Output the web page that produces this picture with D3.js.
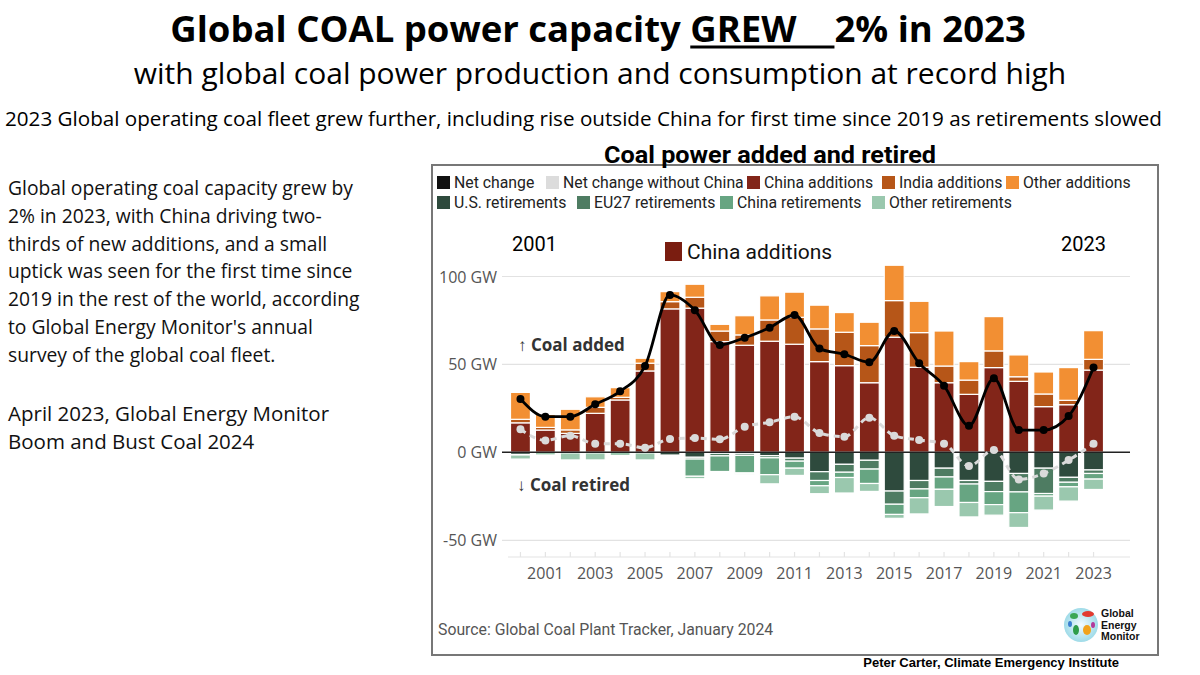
<!DOCTYPE html>
<html><head><meta charset="utf-8">
<script src="https://cdn.jsdelivr.net/npm/d3@7"></script>
<style>
html,body{margin:0;padding:0;background:#fff;}
svg text{font-family:"Open Sans",sans-serif;}
</style></head>
<body>
<svg id="c" width="1200" height="675"></svg>
<script>
const years = [2000,2001,2002,2003,2004,2005,2006,2007,2008,2009,2010,2011,2012,2013,2014,2015,2016,2017,2018,2019,2020,2021,2022,2023];
const chinaAdd = [16.8,12.7,10.8,22.2,29.8,46.3,81.6,82.0,63.0,60.9,63.2,61.5,51.6,49.3,39.6,65.5,48.4,39.6,33.0,48.2,40.4,26.0,27.1,46.8];
const indiaAdd = [2.0,1.5,2.0,3.4,1.5,4.4,4.1,6.2,6.0,5.9,12.1,15.3,18.6,19.0,21.1,20.8,19.7,9.5,8.1,9.5,2.6,7.2,2.5,6.1];
const otherAdd = [15.3,7.4,11.7,6.0,5.5,2.8,5.7,7.4,3.8,10.9,13.7,14.3,13.5,11.2,13.3,20.1,17.8,19.9,10.5,19.5,12.4,12.5,18.6,16.3];
const usRet = [1.2,0,0,0,0,0,1.5,2.8,0.5,0.5,1.9,3.3,11.0,6.8,4.5,22.0,16.0,9.0,16.0,16.5,12.0,9.0,14.2,10.0];
const euRet = [0.3,0,0.3,0.3,0,0.3,0,1.0,1.5,1.2,1.2,1.7,5.0,4.5,5.0,7.5,4.8,5.0,2.0,5.8,10.5,14.4,2.8,2.0];
const chinaRet = [0,0,0,0,0,0,0,9.8,8.9,10.0,9.6,4.0,3.0,3.0,8.2,5.8,5.0,7.0,10.5,7.4,11.8,1.5,2.6,3.2];
const otherRet = [2.3,1.5,4.0,4.0,1.8,4.0,0,1.4,0.5,0.7,5.2,4.1,4.5,8.8,4.5,2.2,9.2,9.8,8.2,6.0,8.4,7.9,8.1,5.9];
const netChange = [30.3,20.3,20.3,27.3,34.7,49.1,89.5,80.8,61.1,65.2,70.9,78.1,59.0,55.8,51.2,69.0,50.7,37.9,15.1,42.1,12.7,12.7,20.7,48.2];
const netNoChina = [13.1,6.8,9.5,4.9,4.9,2.6,7.6,8.1,7.4,14.6,17.1,20.3,11.0,8.9,19.7,9.5,7.0,4.9,-7.8,1.3,-15.4,-12.0,-4.4,4.9];
const yTicks = [-50,0,50,100];
const xLabelYears = [2001,2003,2005,2007,2009,2011,2013,2015,2017,2019,2021,2023];

const addSeries = [
  {name:"China additions", vals:chinaAdd, color:"#822519"},
  {name:"India additions", vals:indiaAdd, color:"#b65618"},
  {name:"Other additions", vals:otherAdd, color:"#f28f33"}
];
const retSeries = [
  {name:"U.S. retirements", vals:usRet, color:"#2e4a3d"},
  {name:"EU27 retirements", vals:euRet, color:"#4e7c62"},
  {name:"China retirements", vals:chinaRet, color:"#67a582"},
  {name:"Other retirements", vals:otherRet, color:"#9ac8ae"}
];

const svg = d3.select("#c");

// Titles
const t1 = svg.append("text").attr("x",598).attr("y",42).attr("text-anchor","middle")
  .style("font-size","36.5px").style("font-weight","700").attr("fill","#000")
  .attr("xml:space","preserve");
t1.append("tspan").text("Global COAL power capacity ");
t1.append("tspan").text("GREW\u00A0\u00A0\u00A0\u00A0");
t1.append("tspan").text("2% in 2023");
{
  const node = t1.node();
  const start = "Global COAL power capacity ".length;
  const end = start + 8;
  const a = node.getStartPositionOfChar(start).x;
  const b = node.getEndPositionOfChar(end-1).x;
  svg.append("line").attr("x1",a).attr("x2",b).attr("y1",47).attr("y2",47)
    .attr("stroke","#000").attr("stroke-width",2.8);
}
svg.append("text").attr("x",600).attr("y",84).attr("text-anchor","middle")
  .style("font-size","30px").attr("fill","#000")
  .text("with global coal power production and consumption at record high");
svg.append("text").attr("x",583.5).attr("y",126).attr("text-anchor","middle")
  .style("font-size","20px").attr("fill","#000").attr("textLength",1157).attr("lengthAdjust","spacingAndGlyphs")
  .text("2023 Global operating coal fleet grew further, including rise outside China for first time since 2019 as retirements slowed");

const leftLines = ["Global operating coal capacity grew by","2% in 2023, with China driving two-","thirds of new additions, and a small","uptick was seen for the first time since","2019 in the rest of the world, according","to Global Energy Monitor's annual","survey of the global coal fleet."];
leftLines.forEach((l,i)=>{
  svg.append("text").attr("x",8).attr("y",195+i*27.8).style("font-size","19.3px").attr("fill","#111").text(l);
});
["April 2023, Global Energy Monitor","Boom and Bust Coal 2024"].forEach((l,i)=>{
  svg.append("text").attr("x",8).attr("y",421+i*27.8).style("font-size","20.5px").attr("fill","#111").text(l);
});

// Chart frame
svg.append("rect").attr("x",432).attr("y",165).attr("width",726).attr("height",490)
  .attr("fill","#fff").attr("stroke","#777").attr("stroke-width",2);
svg.append("text").attr("x",604).attr("y",163)
  .style("font-family","Roboto").style("font-size","23px").style("font-weight","700").attr("fill","#000")
  .attr("textLength",332).attr("lengthAdjust","spacingAndGlyphs")
  .text("Coal power added and retired");

// Legend
const legendRows = [
  [{name:"Net change",color:"#111",x:437},{name:"Net change without China",color:"#dcdcdc",x:546},
   {name:"China additions",color:"#822519",x:747},{name:"India additions",color:"#b65618",x:882},{name:"Other additions",color:"#f28f33",x:1006}],
  [{name:"U.S. retirements",color:"#2e4a3d",x:437},{name:"EU27 retirements",color:"#4e7c62",x:577},
   {name:"China retirements",color:"#67a582",x:720},{name:"Other retirements",color:"#9ac8ae",x:872}]
];
legendRows.forEach((row,ri)=>{
  const cy = 183 + ri*20;
  row.forEach(it=>{
    svg.append("rect").attr("x",it.x).attr("y",cy-7).attr("width",13).attr("height",13).attr("fill",it.color);
    svg.append("text").attr("x",it.x+17).attr("y",cy+5).style("font-family","Roboto").style("font-size","15.8px")
      .attr("fill","#222").text(it.name);
  });
});

// Scales
const x = d3.scaleBand().domain(years).range([508,1106]).paddingInner(0.2).paddingOuter(0.1);
const y = d3.scaleLinear().domain([-50,100]).range([540.3,276.5]);

// gridlines
const g = svg.append("g");
yTicks.forEach(t=>{
  if(t===0) return;
  g.append("line").attr("x1",502).attr("x2",1130).attr("y1",y(t)).attr("y2",y(t))
    .attr("stroke","#e2e2e2").attr("stroke-width",1.2);
});
yTicks.forEach(t=>{
  g.append("text").attr("x",497).attr("y",y(t)+6).attr("text-anchor","end")
    .style("font-size","16px").attr("fill","#555").text(t+" GW");
});

// x axis
const xAxisY = 557;
g.append("line").attr("x1",508).attr("x2",1130).attr("y1",xAxisY).attr("y2",xAxisY).attr("stroke","#e4e4e4").attr("stroke-width",1.2);
years.forEach(yr=>{
  const cx = x(yr)+x.bandwidth()/2;
  g.append("line").attr("x1",cx).attr("x2",cx).attr("y1",xAxisY-5).attr("y2",xAxisY).attr("stroke","#e4e4e4").attr("stroke-width",1.2);
});
xLabelYears.forEach(yr=>{
  g.append("text").attr("x",x(yr)+x.bandwidth()/2).attr("y",579).attr("text-anchor","middle")
    .style("font-size","16px").attr("fill","#555").text(yr);
});

// Stacked bars
const bars = svg.append("g");
years.forEach((yr,i)=>{
  let base = 0;
  addSeries.forEach(s=>{
    const v = s.vals[i];
    if(v>0){
      bars.append("rect").attr("x",x(yr)).attr("width",x.bandwidth())
        .attr("y",y(base+v)).attr("height",y(base)-y(base+v))
        .attr("fill",s.color).attr("stroke","#fff").attr("stroke-width",1.2);
    }
    base += v;
  });
  let nb = 0;
  retSeries.forEach(s=>{
    const v = s.vals[i];
    if(v>0){
      bars.append("rect").attr("x",x(yr)).attr("width",x.bandwidth())
        .attr("y",y(nb)).attr("height",y(nb-v)-y(nb))
        .attr("fill",s.color).attr("stroke","#fff").attr("stroke-width",1.2);
    }
    nb -= v;
  });
});

svg.append("line").attr("x1",502).attr("x2",1130).attr("y1",y(0)).attr("y2",y(0)).attr("stroke","#222").attr("stroke-width",1.5);

// Lines
const cxOf = yr => x(yr)+x.bandwidth()/2;
const line = d3.line().x((d,i)=>cxOf(years[i])).y(d=>y(d)).curve(d3.curveMonotoneX);
svg.append("path").attr("d",line(netNoChina)).attr("fill","none").attr("stroke","#dadada")
  .attr("stroke-width",3).attr("stroke-dasharray","6,5");
svg.selectAll(".dnc").data(netNoChina).enter().append("circle")
  .attr("cx",(d,i)=>cxOf(years[i])).attr("cy",d=>y(d)).attr("r",4).attr("fill","#dadada");
svg.append("path").attr("d",line(netChange)).attr("fill","none").attr("stroke","#000").attr("stroke-width",2.8);
svg.selectAll(".dn").data(netChange).enter().append("circle")
  .attr("cx",(d,i)=>cxOf(years[i])).attr("cy",d=>y(d)).attr("r",4).attr("fill","#000");

// Annotations
svg.append("text").attr("x",512).attr("y",251).style("font-family","Roboto").style("font-size","20px").attr("fill","#000").text("2001");
svg.append("text").attr("x",1106).attr("y",251).attr("text-anchor","end").style("font-family","Roboto").style("font-size","20px").attr("fill","#000").text("2023");
svg.append("rect").attr("x",665).attr("y",242).attr("width",17).attr("height",19).attr("fill","#7a1d10");
svg.append("text").attr("x",687).attr("y",259).style("font-family","Roboto").style("font-size","21px").attr("fill","#111").text("China additions");
svg.append("text").attr("x",518).attr("y",351).style("font-size","17px").style("font-weight","700").attr("fill","#333").text("↑ Coal added");
svg.append("text").attr("x",517).attr("y",491).style("font-size","17px").style("font-weight","700").attr("fill","#333").text("↓ Coal retired");

svg.append("text").attr("x",438).attr("y",635).style("font-family","Roboto").style("font-size","15.8px").attr("fill","#555")
  .text("Source: Global Coal Plant Tracker, January 2024");

// Logo
const defs = svg.append("defs");
const rg = defs.append("radialGradient").attr("id","gl");
rg.append("stop").attr("offset","0%").attr("stop-color","#f4fbff");
rg.append("stop").attr("offset","100%").attr("stop-color","#9fdbe8");
svg.append("circle").attr("cx",1081).attr("cy",625).attr("r",17).attr("fill","url(#gl)");
[[1074,616,4,3,"#3aa655"],[1088,614,6,3,"#e23a2f"],[1076,630,3,5,"#2e9d4a"],[1087,630,4,5,"#f1a21a"],[1093,625,2,3,"#b23a9a"],[1070,624,2,3,"#3a7fd0"]]
  .forEach(b=>svg.append("ellipse").attr("cx",b[0]).attr("cy",b[1]).attr("rx",b[2]).attr("ry",b[3]).attr("fill",b[4]));
["Global","Energy","Monitor"].forEach((t,i)=>{
  svg.append("text").attr("x",1101).attr("y",617+i*11.5).style("font-family","Liberation Sans").style("font-size","10.5px")
    .style("font-weight","700").attr("fill","#111").text(t);
});
svg.append("text").attr("x",1119).attr("y",667).attr("text-anchor","end").style("font-family","Liberation Sans")
  .style("font-size","13px").style("font-weight","700").attr("fill","#000").text("Peter Carter, Climate Emergency Institute");
</script>
</body></html>
